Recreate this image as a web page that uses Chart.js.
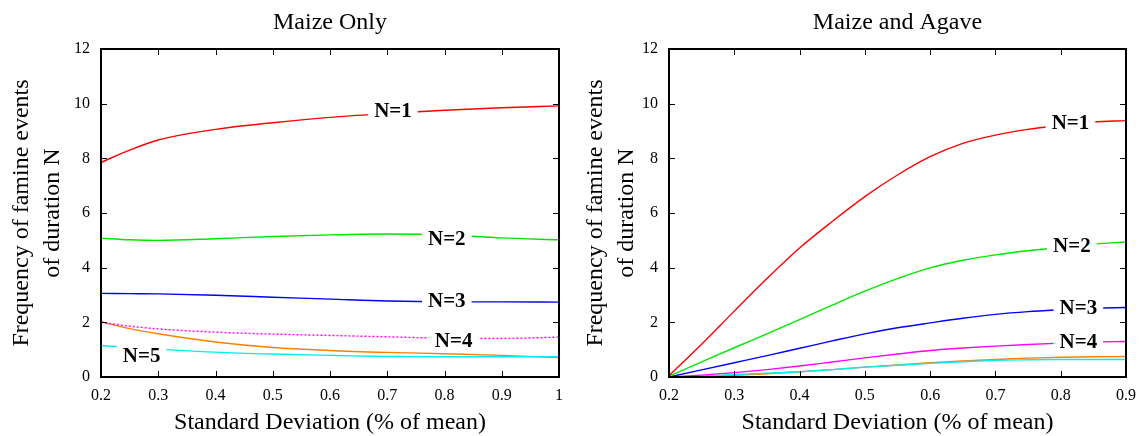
<!DOCTYPE html>
<html>
<head>
<meta charset="utf-8">
<script src="https://cdn.jsdelivr.net/npm/chart.js@4.4.1/dist/chart.umd.min.js"></script>
<style>
  html, body { margin: 0; padding: 0; background: #fff; }
  .row { display: flex; width: 1145px; height: 436px; }
  canvas { display: block; }
</style>
</head>
<body>
<div class="row">
  <canvas id="maizeChart" width="572" height="436"></canvas>
  <canvas id="agaveChart" width="573" height="436"></canvas>
</div>
<script>
// Maize only (left panel)
const maizeX = [0.2, 0.25, 0.3, 0.4, 0.5, 0.6, 0.7, 0.8, 0.9, 1.0];
const maizeN1 = [7.85, 8.3, 8.67, 9.06, 9.3, 9.5, 9.64, 9.76, 9.85, 9.92];
const maizeN2 = [5.08, 5.02, 5.0, 5.06, 5.14, 5.2, 5.23, 5.2, 5.09, 5.02];
const maizeN3 = [3.06, 3.05, 3.04, 2.99, 2.92, 2.85, 2.78, 2.75, 2.75, 2.74];
const maizeN4 = [2.0, 1.86, 1.76, 1.64, 1.57, 1.52, 1.47, 1.42, 1.41, 1.46];
const maizeN5 = [1.15, 1.08, 1.02, 0.91, 0.84, 0.79, 0.75, 0.74, 0.74, 0.74];
const maizeN6 = [2.02, 1.77, 1.58, 1.28, 1.08, 0.97, 0.9, 0.85, 0.79, 0.71];
const maizeLabelText = ["N=1", "N=2", "N=3", "N=4", "N=5"];
const maizeLabelX = [0.71, 0.804, 0.804, 0.816, 0.271];
const maizeLabelY = [9.76, 5.05, 2.78, 1.33, 0.78];

// Maize and agave (right panel)
const agaveX = [0.2, 0.25, 0.3, 0.35, 0.4, 0.45, 0.5, 0.55, 0.6, 0.65, 0.7, 0.75, 0.8, 0.85, 0.9];
const agaveN1 = [0.05, 1.2, 2.41, 3.6, 4.72, 5.69, 6.6, 7.39, 8.06, 8.55, 8.85, 9.06, 9.2, 9.33, 9.38];
const agaveN2 = [0.03, 0.55, 1.07, 1.58, 2.1, 2.63, 3.14, 3.6, 3.99, 4.27, 4.47, 4.62, 4.74, 4.86, 4.94];
const agaveN3 = [0, 0.26, 0.52, 0.78, 1.05, 1.32, 1.58, 1.8, 1.98, 2.15, 2.29, 2.39, 2.46, 2.52, 2.54];
const agaveN4 = [0, 0.07, 0.16, 0.27, 0.4, 0.55, 0.7, 0.84, 0.97, 1.06, 1.13, 1.19, 1.24, 1.28, 1.3];
const agaveN5 = [0, 0.03, 0.09, 0.14, 0.19, 0.27, 0.36, 0.43, 0.5, 0.56, 0.61, 0.63, 0.64, 0.64, 0.64];
const agaveN6 = [0, 0.02, 0.06, 0.12, 0.19, 0.27, 0.36, 0.44, 0.52, 0.59, 0.64, 0.69, 0.72, 0.74, 0.75];
const agaveLabelText = ["N=1", "N=2", "N=3", "N=4"];
const agaveLabelX = [0.815, 0.817, 0.827, 0.827];
const agaveLabelY = [9.31, 4.79, 2.53, 1.3];

const yTicksMax = 12;
const yTicksStep = 2;

const serif = "'Liberation Serif', 'Times New Roman', serif";
Chart.defaults.font.family = serif;
Chart.defaults.color = "#000";

const lineColors = {
  n1: "#ff0000",
  n2: "#00e600",
  n3: "#0000ff",
  n4: "#ff00ff",
  n5: "#00eeee",
  n6: "#ff8000",
};

const toPoints = (xs, ys) => xs.map((x, i) => ({ x: x, y: ys[i] }));

const makeLine = (xs, ys, color, dash) => ({
  data: toPoints(xs, ys),
  borderColor: color,
  borderWidth: 1.4,
  borderDash: dash || [],
  pointRadius: 0,
  showLine: true,
  fill: false,
  cubicInterpolationMode: "monotone",
});

// gnuplot style frame with inward ticks on all four sides
const frameTicks = {
  id: "frameTicks",
  afterDraw(chart) {
    const { ctx, chartArea: a } = chart;
    const x = chart.scales.x;
    const y = chart.scales.y;
    const len = 6;
    ctx.save();
    ctx.strokeStyle = "#000";
    ctx.lineWidth = 1;
    ctx.beginPath();
    x.ticks.forEach((t) => {
      const px = Math.round(x.getPixelForValue(t.value)) + 0.5;
      ctx.moveTo(px, a.bottom);
      ctx.lineTo(px, a.bottom - len);
      ctx.moveTo(px, a.top);
      ctx.lineTo(px, a.top + len);
    });
    y.ticks.forEach((t) => {
      const py = Math.round(y.getPixelForValue(t.value)) + 0.5;
      ctx.moveTo(a.left, py);
      ctx.lineTo(a.left + len, py);
      ctx.moveTo(a.right, py);
      ctx.lineTo(a.right - len, py);
    });
    ctx.stroke();
    ctx.lineWidth = 2;
    ctx.strokeRect(a.left, a.top, a.right - a.left, a.bottom - a.top);
    ctx.restore();
  },
};

// bold "N=k" labels that cut through their line
const lineLabels = {
  id: "lineLabels",
  afterDatasetsDraw(chart, args, opts) {
    const { ctx } = chart;
    const x = chart.scales.x;
    const y = chart.scales.y;
    ctx.save();
    ctx.font = "bold 21px " + serif;
    ctx.textAlign = "center";
    ctx.textBaseline = "middle";
    opts.texts.forEach((text, i) => {
      const px = x.getPixelForValue(opts.xs[i]);
      const py = y.getPixelForValue(opts.ys[i]);
      const w = ctx.measureText(text).width + 12;
      ctx.fillStyle = "#fff";
      ctx.fillRect(px - w / 2, py - 11, w, 22);
      ctx.fillStyle = "#000";
      ctx.fillText(text, px, py + 1);
    });
    ctx.restore();
  },
};

const makeChart = (canvasId, cfg) => {
  const ctx = document.getElementById(canvasId);
  return new Chart(ctx, {
    type: "scatter",
    data: { datasets: cfg.datasets },
    plugins: [frameTicks, lineLabels],
    options: {
      responsive: false,
      animation: false,
      events: [],
      devicePixelRatio: 1,
      layout: { padding: { left: 0, right: cfg.padRight, top: 0, bottom: 0 } },
      plugins: {
        legend: { display: false },
        tooltip: { enabled: false },
        title: {
          display: true,
          text: cfg.title,
          fullSize: false,
          color: "#000",
          font: { family: serif, size: 24, weight: "normal", lineHeight: 1.2 },
          padding: { top: 8, bottom: 12.2 },
        },
        lineLabels: {
          texts: cfg.labelText,
          xs: cfg.labelX,
          ys: cfg.labelY,
        },
      },
      scales: {
        x: {
          type: "linear",
          min: 0.2,
          max: cfg.xMax,
          grid: { display: false, drawTicks: false },
          border: { display: false },
          ticks: {
            stepSize: 0.1,
            padding: 9,
            font: { family: serif, size: 16 },
            color: "#000",
            maxRotation: 0,
            callback: (value) => String(Math.round(value * 10) / 10),
          },
          title: {
            display: true,
            text: "Standard Deviation (% of mean)",
            color: "#000",
            font: { family: serif, size: 24, lineHeight: 1.0 },
            padding: { top: 0, bottom: 1 },
          },
          afterFit: (s) => {
            s.height = 59;
          },
        },
        y: {
          type: "linear",
          min: 0,
          max: yTicksMax,
          grid: { display: false, drawTicks: false },
          border: { display: false },
          ticks: {
            stepSize: yTicksStep,
            padding: 11,
            font: { family: serif, size: 16 },
            color: "#000",
          },
          title: {
            display: true,
            text: ["Frequency of famine events", "of duration N"],
            color: "#000",
            font: { family: serif, size: 24, lineHeight: 1.3 },
            padding: { top: cfg.yTitlePad, bottom: 0 },
          },
          afterFit: (s) => {
            s.width = cfg.yWidth;
          },
        },
      },
    },
  });
};

makeChart("maizeChart", {
  title: "Maize Only",
  xMax: 1.0,
  yWidth: 101,
  padRight: 11,
  yTitlePad: 6,
  labelText: maizeLabelText,
  labelX: maizeLabelX,
  labelY: maizeLabelY,
  datasets: [
    makeLine(maizeX, maizeN1, lineColors.n1),
    makeLine(maizeX, maizeN2, lineColors.n2),
    makeLine(maizeX, maizeN3, lineColors.n3),
    makeLine(maizeX, maizeN4, lineColors.n4, [2, 2]),
    makeLine(maizeX, maizeN5, lineColors.n5),
    makeLine(maizeX, maizeN6, lineColors.n6),
  ],
});

makeChart("agaveChart", {
  title: "Maize and Agave",
  xMax: 0.9,
  yWidth: 97,
  padRight: 17,
  yTitlePad: 8,
  labelText: agaveLabelText,
  labelX: agaveLabelX,
  labelY: agaveLabelY,
  datasets: [
    makeLine(agaveX, agaveN1, lineColors.n1),
    makeLine(agaveX, agaveN2, lineColors.n2),
    makeLine(agaveX, agaveN3, lineColors.n3),
    makeLine(agaveX, agaveN4, lineColors.n4),
    makeLine(agaveX, agaveN5, lineColors.n5),
    makeLine(agaveX, agaveN6, lineColors.n6),
  ],
});
</script>
</body>
</html>
